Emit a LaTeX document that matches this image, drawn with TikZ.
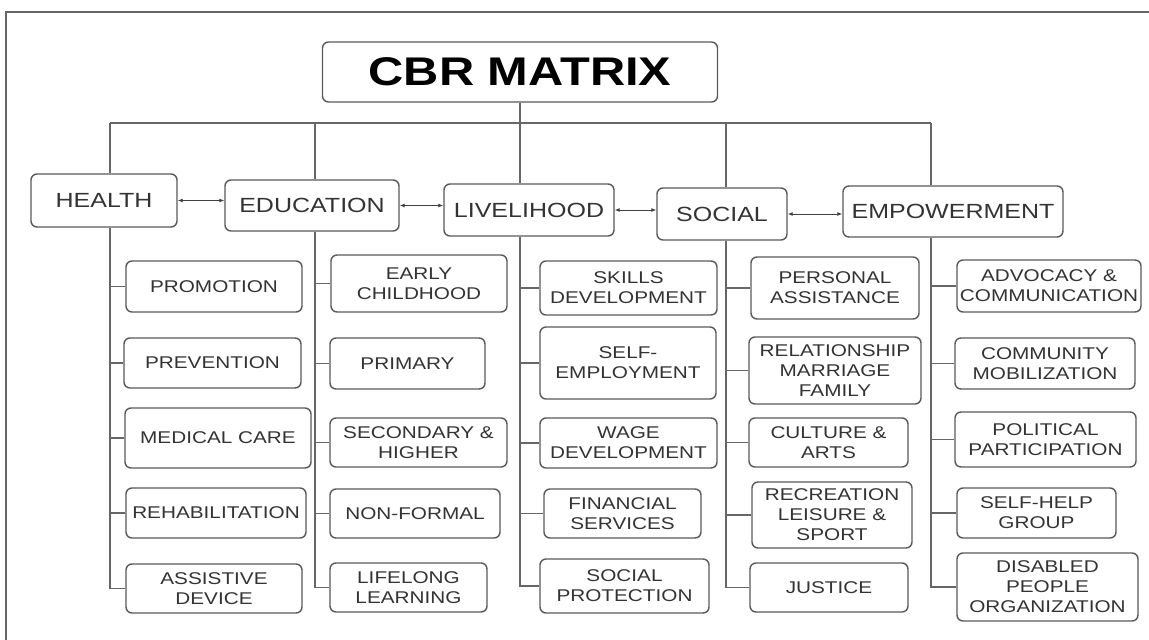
\documentclass[tikz,border=0pt]{standalone}
\usepackage{fontspec}
\setmainfont[FakeStretch=1.22]{Liberation Sans}
\usetikzlibrary{arrows.meta}

\begin{document}
\begin{tikzpicture}[x=1pt,y=-1pt,
  link/.style={draw=black!60,line width=1.6pt},
  box/.style={draw=black!65,line width=1.4pt,rounded corners=6pt,align=center,inner sep=0pt,text=black!80},
  area/.style={box,font=\fontsize{20.5}{24}\selectfont},
  item/.style={box,font=\fontsize{17}{20}\selectfont},
  arr/.style={{Latex[length=5pt,width=4pt]}-{Latex[length=5pt,width=4pt]},black!75,line width=0.9pt}]
\useasboundingbox (0,0) rectangle (1149,640);
% FRAME
\draw [black!60,line width=1.6pt] (1149,12) -- (6,12) -- (6,640);
% TITLE
\node [box,text=black,font=\bfseries\fontsize{40}{44}\selectfont,minimum width=395pt,minimum height=60pt] (title) at (520,72) {CBR MATRIX};
% AREAS
\node [area,minimum width=146pt,minimum height=53pt] (health) at (104,200.5) {HEALTH};
\node [area,minimum width=174pt,minimum height=51pt] (education) at (312,205.5) {EDUCATION};
\node [area,minimum width=170pt,minimum height=52pt] (livelihood) at (529,210) {LIVELIHOOD};
\node [area,minimum width=130pt,minimum height=52pt] (social) at (722,214) {SOCIAL};
\node [area,minimum width=220pt,minimum height=51pt] (empowerment) at (953,211.5) {EMPOWERMENT};
% BUS
\coordinate (hb) at (110,123);
\coordinate (eb) at (315,123);
\coordinate (lb) at (520,123);
\coordinate (sb) at (726,123);
\coordinate (mb) at (931,123);
\draw [link] (hb) -- (mb);
\draw [link] (title.south) -- (title.south |- lb);
\draw [link] (hb) -- (hb |- health.north);
\draw [link] (eb) -- (eb |- education.north);
\draw [link] (lb) -- (lb |- livelihood.north);
\draw [link] (sb) -- (sb |- social.north);
\draw [link] (mb) -- (mb |- empowerment.north);
% ARROWS BETWEEN AREAS
\draw [arr] (health.east) -- (health.east -| education.west);
\draw [arr] (education.east) -- (education.east -| livelihood.west);
\draw [arr] (livelihood.east) -- (livelihood.east -| social.west);
\draw [arr] (social.east) -- (social.east -| empowerment.west);
% HEALTH
\node [item,minimum width=176pt,minimum height=51pt] (promotion) at (214,286.5) {PROMOTION};
\node [item,minimum width=177pt,minimum height=50pt] (prevention) at (212.5,363) {PREVENTION};
\node [item,minimum width=186pt,minimum height=60pt] (medical) at (218,438) {MEDICAL CARE};
\node [item,minimum width=180pt,minimum height=50pt] (rehab) at (216,513) {REHABILITATION};
\node [item,minimum width=176pt,minimum height=49pt] (device) at (214,588.5) {ASSISTIVE\\DEVICE};
\draw [link] (hb |- health.south) -- (hb |- device.west) -- (device.west);
\draw [link] (hb |- promotion.west) -- (promotion.west);
\draw [link] (hb |- prevention.west) -- (prevention.west);
\draw [link] (hb |- medical.west) -- (medical.west);
\draw [link] (hb |- rehab.west) -- (rehab.west);
% EDUCATION
\node [item,minimum width=176pt,minimum height=57pt] (early) at (419,283.5) {EARLY\\CHILDHOOD};
\node [item,minimum width=155pt,minimum height=51pt] (primary) at (407.5,363.5) {PRIMARY};
\node [item,minimum width=177pt,minimum height=49pt] (secondary) at (418.5,442.5) {SECONDARY \&\\HIGHER};
\node [item,minimum width=170pt,minimum height=49pt] (nonformal) at (415,513.5) {NON-FORMAL};
\node [item,minimum width=157pt,minimum height=49pt] (lifelong) at (408.5,587.5) {LIFELONG\\LEARNING};
\draw [link] (eb |- education.south) -- (eb |- lifelong.west) -- (lifelong.west);
\draw [link] (eb |- early.west) -- (early.west);
\draw [link] (eb |- primary.west) -- (primary.west);
\draw [link] (eb |- secondary.west) -- (secondary.west);
\draw [link] (eb |- nonformal.west) -- (nonformal.west);
% LIVELIHOOD
\node [item,minimum width=177pt,minimum height=54pt] (skills) at (628.5,288) {SKILLS\\DEVELOPMENT};
\node [item,minimum width=176pt,minimum height=72pt] (selfemp) at (628,363) {SELF-\\EMPLOYMENT};
\node [item,minimum width=177pt,minimum height=50pt] (wage) at (628.5,443) {WAGE\\DEVELOPMENT};
\node [item,minimum width=157pt,minimum height=49pt] (financial) at (622.5,513.5) {FINANCIAL\\SERVICES};
\node [item,minimum width=169pt,minimum height=54pt] (protection) at (624.5,586) {SOCIAL\\PROTECTION};
\draw [link] (lb |- livelihood.south) -- (lb |- protection.west) -- (protection.west);
\draw [link] (lb |- skills.west) -- (skills.west);
\draw [link] (lb |- selfemp.west) -- (selfemp.west);
\draw [link] (lb |- wage.west) -- (wage.west);
\draw [link] (lb |- financial.west) -- (financial.west);
% SOCIAL
\node [item,minimum width=168pt,minimum height=62pt] (personal) at (835,288) {PERSONAL\\ASSISTANCE};
\node [item,minimum width=172pt,minimum height=67pt] (relationship) at (835,370.5) {RELATIONSHIP\\MARRIAGE\\FAMILY};
\node [item,minimum width=159pt,minimum height=49pt] (culture) at (828.5,442.5) {CULTURE \&\\ARTS};
\node [item,minimum width=160pt,minimum height=66pt] (recreation) at (832,515) {RECREATION\\LEISURE \&\\SPORT};
\node [item,minimum width=158pt,minimum height=49pt] (justice) at (829,587.5) {JUSTICE};
\draw [link] (sb |- social.south) -- (sb |- justice.west) -- (justice.west);
\draw [link] (sb |- personal.west) -- (personal.west);
\draw [link] (sb |- relationship.west) -- (relationship.west);
\draw [link] (sb |- culture.west) -- (culture.west);
\draw [link] (sb |- recreation.west) -- (recreation.west);
% EMPOWERMENT
\node [item,minimum width=184pt,minimum height=52pt] (advocacy) at (1049,286) {ADVOCACY \&\\COMMUNICATION};
\node [item,minimum width=180pt,minimum height=51pt] (community) at (1045,363.5) {COMMUNITY\\MOBILIZATION};
\node [item,minimum width=181pt,minimum height=55pt] (political) at (1045.5,439.5) {POLITICAL\\PARTICIPATION};
\node [item,minimum width=159pt,minimum height=50pt] (selfhelp) at (1036.5,513) {SELF-HELP\\GROUP};
\node [item,minimum width=181pt,minimum height=68pt] (dpo) at (1047.5,587) {DISABLED\\PEOPLE\\ORGANIZATION};
\draw [link] (mb |- empowerment.south) -- (mb |- dpo.west) -- (dpo.west);
\draw [link] (mb |- advocacy.west) -- (advocacy.west);
\draw [link] (mb |- community.west) -- (community.west);
\draw [link] (mb |- political.west) -- (political.west);
\draw [link] (mb |- selfhelp.west) -- (selfhelp.west);
\end{tikzpicture}
\end{document}
